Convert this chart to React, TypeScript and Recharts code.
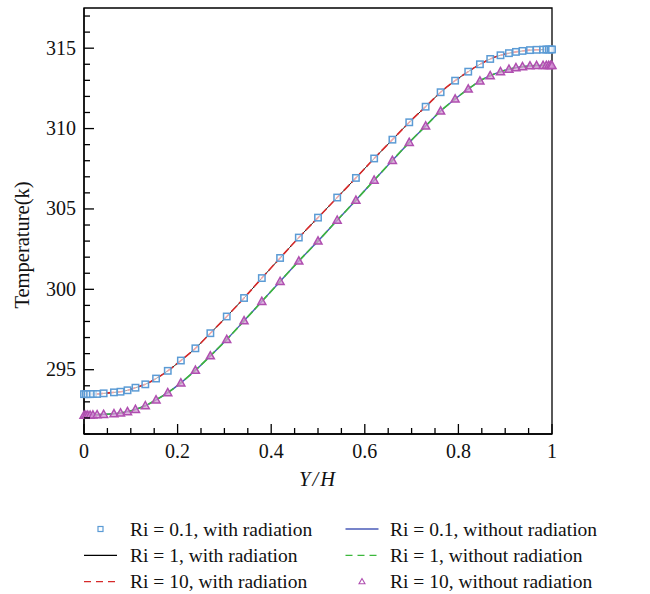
import { Line, LineChart, ReferenceArea, XAxis, YAxis } from "recharts";

const SERIF = "'Liberation Serif', 'DejaVu Serif', serif";
const SQUARE = "#5b9bd5";
const TRIANGLE = "#b04fb0";
const RED = "#d62a2a";
const BLUE = "#4a5bb8";
const GREEN = "#3cb83c";

// Y/H grid positions (clustered near both walls)
const yh = [
  0, 0.004, 0.008, 0.013, 0.019, 0.028, 0.042, 0.064, 0.078, 0.093, 0.11, 0.131, 0.154, 0.179, 0.207,
  0.238, 0.27, 0.305, 0.342, 0.38, 0.419, 0.459, 0.5, 0.541, 0.581, 0.62, 0.659, 0.695, 0.73, 0.762,
  0.793, 0.821, 0.846, 0.868, 0.89, 0.908, 0.923, 0.937, 0.953, 0.967, 0.981, 0.988, 0.993, 0.997, 1,
];

// temperature with radiation (Ri = 0.1, 1, 10 coincide)
const tWithRad = [
  293.48, 293.48, 293.48, 293.48, 293.49, 293.49, 293.53, 293.59, 293.63, 293.72, 293.88, 294.09, 294.45,
  294.93, 295.57, 296.33, 297.27, 298.31, 299.46, 300.7, 301.95, 303.22, 304.46, 305.71, 306.93, 308.14,
  309.31, 310.39, 311.36, 312.26, 312.98, 313.54, 314.0, 314.33, 314.56, 314.69, 314.77, 314.83, 314.88,
  314.9, 314.91, 314.92, 314.92, 314.92, 314.92,
];

// temperature without radiation (Ri = 0.1, 1, 10 coincide)
const tWithoutRad = [
  292.16, 292.16, 292.16, 292.17, 292.18, 292.2, 292.22, 292.26, 292.31, 292.39, 292.53, 292.76, 293.12,
  293.57, 294.18, 294.96, 295.86, 296.88, 298.04, 299.25, 300.49, 301.76, 303.0, 304.3, 305.54, 306.79,
  308.02, 309.14, 310.16, 311.09, 311.84, 312.46, 312.96, 313.29, 313.54, 313.69, 313.79, 313.85, 313.9,
  313.92, 313.93, 313.93, 313.93, 313.93, 313.93,
];

const xTicks = [0, 0.05, 0.1, 0.15, 0.2, 0.25, 0.3, 0.35, 0.4, 0.45, 0.5, 0.55, 0.6, 0.65, 0.7, 0.75, 0.8, 0.85, 0.9, 0.95, 1];
const xLabels: Record<string, string> = { "0": "0", "0.2": "0.2", "0.4": "0.4", "0.6": "0.6", "0.8": "0.8", "1": "1" };
const yTicks = [291, 292, 293, 294, 295, 296, 297, 298, 299, 300, 301, 302, 303, 304, 305, 306, 307, 308, 309, 310, 311, 312, 313, 314, 315, 316, 317];
const yLabels: Record<string, string> = { "295": "295", "300": "300", "305": "305", "310": "310", "315": "315" };

const legendItems = [
  { label: "Ri = 0.1, with radiation", kind: "square" },
  { label: "Ri = 0.1, without radiation", kind: "blue" },
  { label: "Ri = 1, with radiation", kind: "black" },
  { label: "Ri = 1, without radiation", kind: "green" },
  { label: "Ri = 10, with radiation", kind: "red" },
  { label: "Ri = 10, without radiation", kind: "triangle" },
];

const data = yh.map((x, i) => ({ x, withRad: tWithRad[i], withoutRad: tWithoutRad[i] }));

function XTick({ x, y, payload }: any) {
  const label = xLabels[String(payload.value)];
  return (
    <g>
      <line x1={x} x2={x} y1={y} y2={y - (label ? 10 : 6)} stroke="#000" strokeWidth={1.3} />
      {label && (
        <text x={x} y={y + 24} textAnchor="middle" fontFamily={SERIF} fontSize={20} fill="#111">
          {label}
        </text>
      )}
    </g>
  );
}

function YTick({ x, y, payload }: any) {
  const label = yLabels[String(payload.value)];
  return (
    <g>
      <line x1={x} x2={x + (label ? 10 : 6)} y1={y} y2={y} stroke="#000" strokeWidth={1.3} />
      {label && (
        <text x={x - 8} y={y + 6.5} textAnchor="end" fontFamily={SERIF} fontSize={20} fill="#111">
          {label}
        </text>
      )}
    </g>
  );
}

function SquareDot({ cx, cy }: any) {
  if (cx == null || cy == null) return null;
  return <rect x={cx - 3.2} y={cy - 3.2} width={6.4} height={6.4} fill="#fff" fillOpacity={0.6} stroke={SQUARE} strokeWidth={1.5} />;
}

function TriangleDot({ cx, cy }: any) {
  if (cx == null || cy == null) return null;
  return (
    <polygon
      points={`${cx},${cy - 4.2} ${cx - 4},${cy + 3} ${cx + 4},${cy + 3}`}
      fill="#d79ad7"
      fillOpacity={0.75}
      stroke={TRIANGLE}
      strokeWidth={1.5}
    />
  );
}

function LegendSymbol({ kind, cx, cy }: { kind: string; cx: number; cy: number }) {
  if (kind === "square") return <rect x={cx - 2.5} y={cy - 2.5} width={5} height={5} fill="none" stroke={SQUARE} strokeWidth={1.2} />;
  if (kind === "triangle")
    return <polygon points={`${cx},${cy - 3} ${cx - 3},${cy + 2.2} ${cx + 3},${cy + 2.2}`} fill="none" stroke={TRIANGLE} strokeWidth={1.1} />;
  const stroke = kind === "black" ? "#000" : kind === "red" ? RED : kind === "green" ? GREEN : BLUE;
  const dash = kind === "red" || kind === "green" ? "7 5" : undefined;
  return <line x1={cx - 16.5} x2={cx + 16.5} y1={cy} y2={cy} stroke={stroke} strokeWidth={1.3} strokeDasharray={dash} />;
}

export default function App() {
  return (
    <div style={{ position: "absolute", left: 0, top: 0, width: 650, height: 594, background: "#fff" }}>
      <LineChart width={650} height={480} data={data} margin={{ top: 8, right: 98, left: 24, bottom: 16 }}>
        <XAxis
          dataKey="x"
          type="number"
          domain={[0, 1]}
          ticks={xTicks}
          interval={0}
          tick={<XTick />}
          tickLine={false}
          tickSize={0}
          tickMargin={0}
          height={30}
          axisLine={{ stroke: "#000", strokeWidth: 1.3 }}
        />
        <YAxis
          type="number"
          domain={[291, 317.5]}
          ticks={yTicks}
          interval={0}
          allowDataOverflow
          tick={<YTick />}
          tickLine={false}
          tickSize={0}
          tickMargin={0}
          width={60}
          axisLine={{ stroke: "#000", strokeWidth: 1.3 }}
        />
        <ReferenceArea x1={0} x2={1} y1={291} y2={317.5} fill="none" stroke="#000" strokeWidth={1.3} ifOverflow="visible" />
        <Line type="monotone" dataKey="withRad" stroke="#000" strokeWidth={0.9} dot={false} isAnimationActive={false} />
        <Line type="monotone" dataKey="withRad" stroke={RED} strokeWidth={1.6} strokeDasharray="8 3" dot={false} isAnimationActive={false} />
        <Line type="monotone" dataKey="withoutRad" stroke={BLUE} strokeWidth={1.4} dot={false} isAnimationActive={false} />
        <Line type="monotone" dataKey="withoutRad" stroke={GREEN} strokeWidth={1.6} strokeDasharray="8 3" dot={false} isAnimationActive={false} />
        <Line dataKey="withRad" stroke="none" dot={<SquareDot />} isAnimationActive={false} />
        <Line dataKey="withoutRad" stroke="none" dot={<TriangleDot />} isAnimationActive={false} />
      </LineChart>
      <svg width={650} height={594} style={{ position: "absolute", left: 0, top: 0, pointerEvents: "none" }}>
        <text
          x={0}
          y={0}
          transform="translate(29 245) rotate(-90)"
          textAnchor="middle"
          fontFamily={SERIF}
          fontSize={20.5}
          fill="#111"
        >
          Temperature(k)
        </text>
        <text x={318} y={486} textAnchor="middle" fontFamily={SERIF} fontSize={20.5} fontStyle="italic" letterSpacing={2} fill="#111">
          Y/H
        </text>
        {legendItems.map((item, i) => {
          const col = i % 2;
          const row = Math.floor(i / 2);
          const cy = 529 + row * 26.3;
          const cx = col === 0 ? 100.5 : 362;
          const tx = col === 0 ? 130 : 390;
          return (
            <g key={item.label}>
              <LegendSymbol kind={item.kind} cx={cx} cy={cy} />
              <text x={tx} y={cy + 6.5} fontFamily={SERIF} fontSize={19.5} fill="#111">
                {item.label}
              </text>
            </g>
          );
        })}
      </svg>
    </div>
  );
}
